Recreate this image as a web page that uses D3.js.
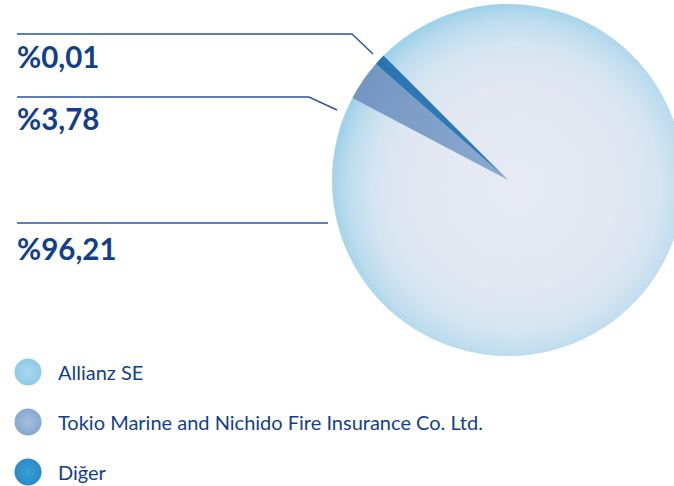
<!DOCTYPE html>
<html><head><meta charset="utf-8">
<script src="https://cdn.jsdelivr.net/npm/d3@7"></script>
<style>html,body{margin:0;padding:0;background:#fff;overflow:hidden}svg{display:block}</style>
</head><body><div id="chart"></div>
<script>
const categories = ["Allianz SE", "Tokio Marine and Nichido Fire Insurance Co. Ltd.", "Diğer"];
const values = [96.21, 3.78, 0.01];
const valueLabels = ["%96,21", "%3,78", "%0,01"];
const minVisibleShare = 1.05; // keeps the tiny slice visible, as in the original

const W = 674, H = 486;
const svg = d3.select("#chart").append("svg").attr("width", W).attr("height", H);
const defs = svg.append("defs");

const cx = 508, cy = 180, R = 176;
const textColor = "#123f8b", lineColor = "#2a559c";

// gradients (userSpace coords are relative to the pie group's origin)
function radial(id, stops, attrs) {
  const g = defs.append("radialGradient").attr("id", id).attr("gradientUnits", attrs.units || "objectBoundingBox");
  Object.entries(attrs).forEach(([k, v]) => { if (k !== "units") g.attr(k, v); });
  stops.forEach(s => g.append("stop").attr("offset", s[0]).attr("stop-color", s[1]));
}
radial("gAll", [[0, "#e7eaf4"], [0.55, "#e3e8f3"], [0.78, "#d6e5f1"], [0.92, "#bcdcee"], [1, "#a0d2ea"]],
  {units: "userSpaceOnUse", cx: 8, cy: 8, r: R + 8, fx: 8, fy: 8});
radial("gTok", [[0, "#8aaad0"], [0.6, "#809fc8"], [1, "#7396c1"]],
  {units: "userSpaceOnUse", cx: 0, cy: 0, r: R});
radial("gDig", [[0, "#2f7dbb"], [1, "#2a74b3"]],
  {units: "userSpaceOnUse", cx: 0, cy: 0, r: R});
radial("lAll", [[0, "#a9d8ee"], [1, "#8fcbe8"]], {});
radial("lTok", [[0, "#a6bfdc"], [1, "#86a7cf"]], {});
radial("lDig", [[0, "#3aa0d5"], [1, "#2a8ac8"]], {});
const sliceFill = ["url(#gAll)", "url(#gTok)", "url(#gDig)"];
const legendFill = ["url(#lAll)", "url(#lTok)", "url(#lDig)"];

const data = categories.map((c, i) => ({name: c, value: values[i], label: valueLabels[i]}));

const pie = d3.pie().sort(null)
  .value(d => Math.max(d.value, minVisibleShare))
  .startAngle(-Math.PI / 4).endAngle(2 * Math.PI - Math.PI / 4);
const arcs = pie(data);
const arc = d3.arc().innerRadius(0).outerRadius(R);

const g = svg.append("g").attr("transform", `translate(${cx},${cy})`);
g.selectAll("path").data(arcs).join("path")
  .attr("d", arc)
  .attr("fill", (d, i) => sliceFill[i]);

// leader lines & value labels
const ann = [
  {i: 2, y: 34, xTurn: 352, end: [373, 54], ty: 68},
  {i: 1, y: 97, xTurn: 309, end: [337, 110], ty: 130},
  {i: 0, y: 223, xTurn: 328, end: null, ty: 260}
];
ann.forEach(a => {
  const pts = [[17, a.y], [a.xTurn, a.y]];
  if (a.end) pts.push(a.end);
  svg.append("path").attr("d", d3.line()(pts))
    .attr("fill", "none").attr("stroke", lineColor).attr("stroke-width", 1.4);
  svg.append("text").attr("x", 17).attr("y", a.ty)
    .attr("font-family", "Lato, 'Open Sans', sans-serif").attr("font-weight", 700)
    .attr("font-size", 29.5).attr("fill", textColor)
    .text(data[a.i].label);
});

// legend
const leg = svg.append("g");
const ly = d3.scalePoint().domain(categories).range([372, 472]);
const items = leg.selectAll("g").data(data).join("g")
  .attr("transform", d => `translate(0,${ly(d.name)})`);
items.append("circle").attr("cx", 28).attr("cy", 0).attr("r", 13.5)
  .attr("fill", (d, i) => legendFill[i]);
items.append("text").attr("x", 58).attr("y", 8)
  .attr("font-family", "Lato, 'Open Sans', sans-serif").attr("font-size", 20)
  .attr("fill", textColor).text(d => d.name);
</script></body></html>
